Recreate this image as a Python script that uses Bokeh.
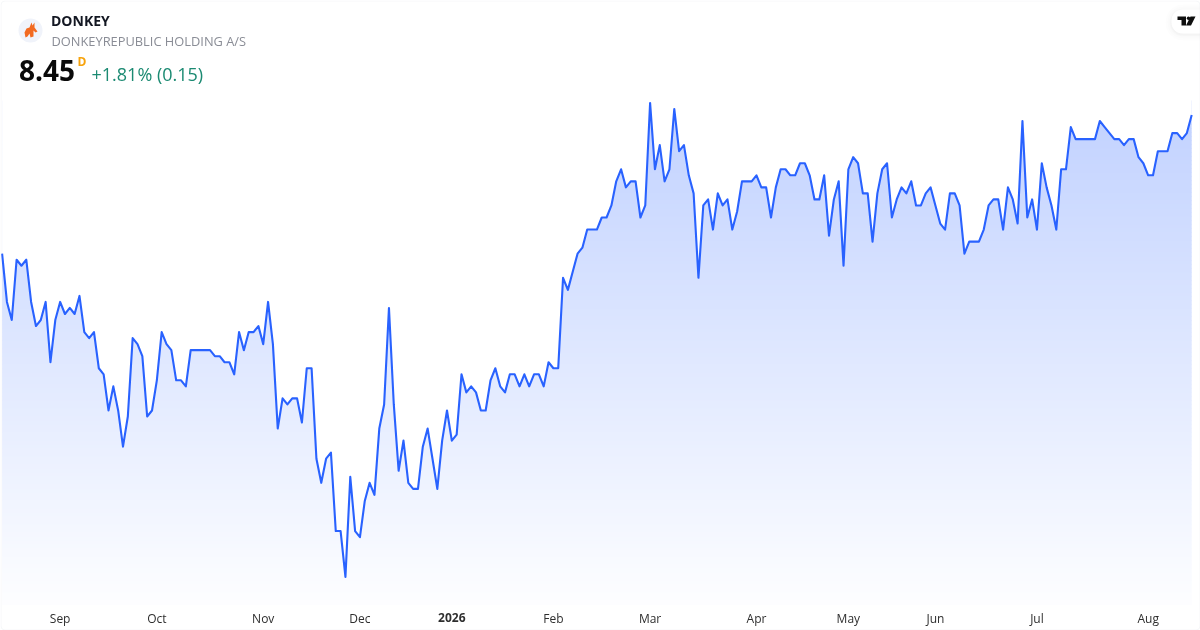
from bokeh.plotting import figure
from bokeh.models import Label, BoxAnnotation, FixedTicker, LinearAxis
from bokeh.embed import file_html
from bokeh.resources import INLINE

close = [
 7.30,6.90,6.75,7.25,7.20,7.25,6.90,6.70,6.75,6.90,6.40,6.75,6.90,6.80,6.85,6.80,6.95,6.65,6.60,6.65,
 6.35,6.30,6.00,6.20,6.00,5.70,5.95,6.60,6.55,6.45,5.95,6.00,6.25,6.65,6.55,6.50,6.25,6.25,6.20,6.50,
 6.50,6.50,6.50,6.50,6.45,6.45,6.40,6.40,6.30,6.65,6.50,6.65,6.65,6.70,6.55,6.90,6.55,5.85,6.10,6.05,
 6.10,6.10,
 5.90,6.35,6.35,5.60,5.40,5.60,5.65,5.00,5.00,4.62,5.45,5.00,4.95,5.25,5.40,5.30,5.85,6.05,6.85,6.05,
 5.50,5.75,5.40,5.35,5.35,5.70,5.85,5.60,5.35,5.75,6.00,5.75,5.80,6.30,6.15,6.20,6.15,6.00,6.00,6.25,
 6.35,6.20,6.15,6.30,6.30,6.20,6.30,6.20,6.30,6.30,6.20,6.40,6.35,6.35,
 7.10,7.00,7.15,7.30,7.35,7.50,7.50,7.50,7.60,7.60,7.70,7.90,8.00,7.85,7.90,7.90,7.60,7.70,8.55,8.00,
 8.20,7.90,8.00,8.50,8.15,8.20,7.95,7.80,7.10,7.70,7.75,7.50,7.80,7.70,7.75,7.50,7.65,7.90,7.90,7.90,
 7.95,7.85,7.85,7.60,7.85,8.00,8.00,7.95,7.95,8.05,8.05,7.95,7.75,7.75,7.95,7.45,7.75,7.90,7.20,8.00,
 8.10,8.05,7.80,7.80,
 7.40,7.80,8.00,8.05,7.60,7.75,7.85,7.80,7.90,7.70,7.70,7.80,7.85,7.70,7.55,7.50,7.80,7.80,7.70,7.30,
 7.40,7.40,7.40,7.50,7.70,7.75,7.75,7.50,7.85,7.75,7.55,8.40,7.60,7.75,7.50,8.05,7.85,7.70,7.50,8.00,
 8.00,8.35,8.25,8.25,8.25,8.25,8.25,8.40,8.35,8.30,8.25,8.25,8.20,8.25,8.25,8.10,8.05,7.95,7.95,8.15,
 8.15,8.15,8.30,8.30,8.25,8.30,8.45,
]
tick_index = [12, 32, 54, 74, 93, 114, 134, 156, 175, 193, 214, 237]
tick_labels = ["Sep", "Oct", "Nov", "Dec", "2026", "Feb", "Mar", "Apr", "May", "Jun", "Jul", "Aug"]

W, H = 1200, 630
X0, DX = 1.6, (1191.2 - 1.6) / (len(close) - 1)
Y0, DY = 114.5, 120.6
def dx(px): return (px - X0) / DX
def dy(py): return 8.45 - (py - Y0) / DY

p = figure(width=W, height=H, frame_width=W, frame_height=H, output_backend="svg", toolbar_location=None,
           x_range=(dx(0), dx(W)), y_range=(dy(H), dy(0)), min_border=0, x_axis_location=None,
           y_axis_location=None)
p.styles = {"position": "fixed", "left": "0px", "top": "0px"}
p.grid.visible = False
p.outline_line_color = None
p.background_fill_color = "white"
p.border_fill_color = "white"

# vertical gradient (TradingView-style area), then masked above the line
xs = list(range(len(close)))
top_py, bot_py, a_top, a_bot = 100.0, 604.0, 0.29, 0.01
blue = (41, 98, 255)
n = 126
tops, bots, cols = [], [], []
for k in range(n):
    a = k / (n - 1)
    alpha = a_top + (a_bot - a_top) * a
    c = tuple(round(255 - (255 - b) * alpha) for b in blue)
    py0 = top_py + (bot_py - top_py) * k / n
    py1 = top_py + (bot_py - top_py) * (k + 1) / n + 0.6
    tops.append(dy(py0)); bots.append(dy(py1)); cols.append("#%02x%02x%02x" % c)
p.quad(left=0, right=len(close) - 1, top=tops, bottom=bots, fill_color=cols, line_color=None)
p.varea(x=xs, y1=close, y2=[dy(0)] * len(close), fill_color="white")
p.line(xs, close, line_color="#2962ff", line_width=2.1, line_join="round")

# x axes: placed inside the frame; the year tick is a second, bold axis
def make_axis(indices, labels, style, standoff):
    ax = LinearAxis(fixed_location=dy(600))
    ax.ticker = FixedTicker(ticks=indices)
    ax.major_label_overrides = dict(zip(indices, labels))
    ax.major_tick_line_color = None
    ax.minor_tick_line_color = None
    ax.axis_line_color = None
    ax.major_tick_in = 0
    ax.major_tick_out = 0
    ax.major_label_standoff = standoff
    ax.major_label_text_font = "Open Sans"
    ax.major_label_text_font_size = "12px"
    ax.major_label_text_font_style = style
    ax.major_label_text_color = "#2e2e2e"
    p.add_layout(ax, "below")

months = [(t, l) for t, l in zip(tick_index, tick_labels) if l != "2026"]
years = [(t, l) for t, l in zip(tick_index, tick_labels) if l == "2026"]
make_axis([t for t, l in months], [l for t, l in months], "normal", 9)
make_axis([t for t, l in years], [l for t, l in years], "bold", 12)

def lab(px, py, text, size, color, style="normal", align="left"):
    p.add_layout(Label(x=dx(px), y=dy(py), text=text, text_font="Open Sans", text_font_size=size,
                       text_color=color, text_font_style=style, text_align=align, text_baseline="middle"))

lab(50.5, 20, "DONKEY", "14px", "#131722", "bold")
lab(51, 40, "DONKEYREPUBLIC HOLDING A/S", "12.85px", "#8a8d96")
lab(18.5, 69.5, "8.45", "28px", "#0a0a0a", "bold")
lab(77, 61, "D", "12px", "#f7a30c", "bold")
lab(91, 73.5, "+1.81% (0.15)", "18px", "#1b8a72")

# logo
p.scatter(x=[dx(30)], y=[dy(30)], size=24, marker="circle", fill_color="#f0f3fa", line_color=None)
dk = [(24,32),(26,28),(29,27),(31,22),(32,25),(34,22),(34,27),(37,31),(35,32),(33,30),(33,36),(30,37),(29,33),(27,36),(25,37)]
p.patch([dx(a) for a, b in dk], [dy(b) for a, b in dk], fill_color="#f26a21", line_color=None)

# TradingView pill
for i, alpha in [(6, 0.006), (4, 0.008), (2, 0.012), (1, 0.015)]:
    p.add_layout(BoxAnnotation(left=dx(1171 - i), right=dx(1200), top=dy(9 - i + 1), bottom=dy(33 + i + 1),
                               fill_color="#000000", fill_alpha=alpha, line_color=None,
                               border_radius=dict(top_left=11 + i, bottom_left=11 + i, top_right=0, bottom_right=0)))
p.add_layout(BoxAnnotation(left=dx(1171), right=dx(1200), top=dy(9), bottom=dy(33), fill_color="white", fill_alpha=1,
                           line_color=None, border_radius=dict(top_left=11, bottom_left=11, top_right=0, bottom_right=0)))
tv = [[(1177,16),(1185.5,16),(1185.5,25),(1181,25),(1181,19.5),(1177,19.5)],
      [(1190,16),(1195,16),(1190.5,25),(1185.5,25)]]
p.patches([[dx(a) for a, b in s] for s in tv], [[dy(b) for a, b in s] for s in tv],
          fill_color="#0f0f0f", line_color=None, level="overlay")
p.scatter(x=[dx(1188)], y=[dy(17.8)], size=3.4, marker="circle", fill_color="#0f0f0f", line_color=None, level="overlay")

# card border
p.add_layout(BoxAnnotation(left=dx(0.5), right=dx(1199.5), top=dy(0.5), bottom=dy(629.5), fill_alpha=0,
                           line_color="#e0e3eb", line_width=1, border_radius=4))

open("out.html", "w").write(file_html(p, INLINE))
